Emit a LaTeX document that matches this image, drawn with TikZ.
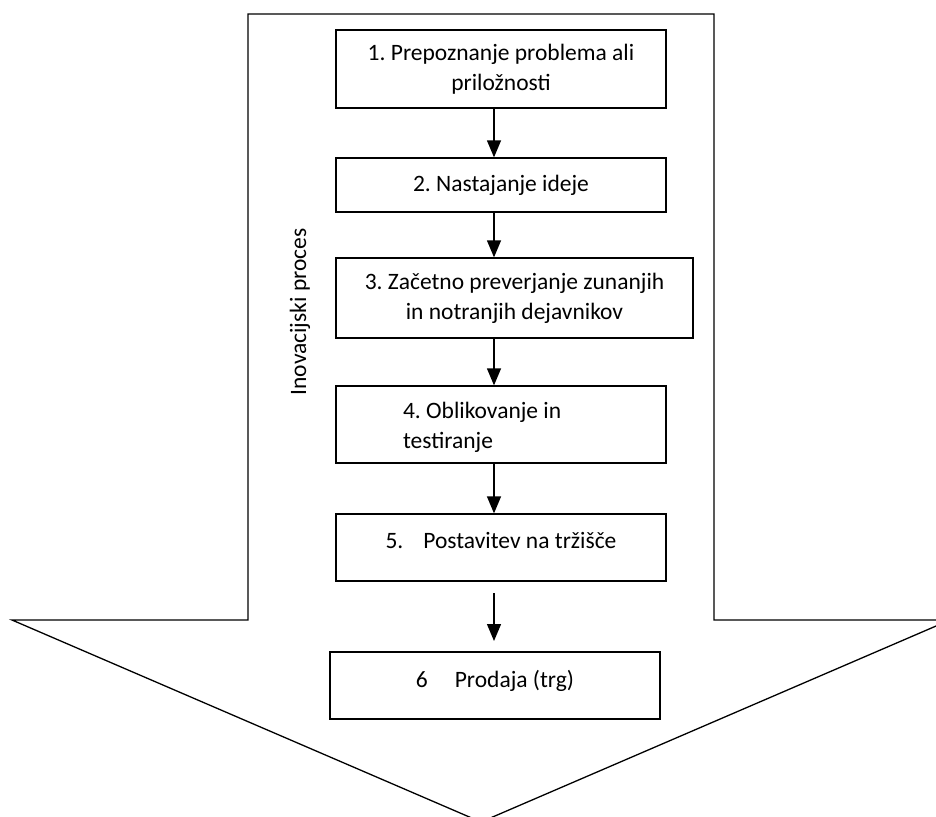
\documentclass[tikz,border=0pt]{standalone}
\usepackage{fontspec}
\setmainfont{Carlito}
\usetikzlibrary{arrows.meta}
\begin{document}
\frenchspacing
\begin{tikzpicture}[x=1pt,y=-1pt,
  every node/.style={font=\fontsize{23.5}{30}\selectfont\frenchspacing},
  stepbox/.style={draw=black,line width=1.3pt,rectangle,inner sep=0pt,align=flush center,minimum width=330pt},
  outline/.style={draw=black,line width=1.3pt,line join=miter},
  arr/.style={line width=1.3pt,-{Triangle[length=17pt,width=14pt]}}]
\useasboundingbox (0,0) rectangle (936,816);
\clip (0,0) rectangle (936,816);
% big arrow outline
\draw[outline] (248,14) -- (714,14) -- (714,620) -- (950,620) -- (481,822) -- (12,620) -- (248,620) -- cycle;
\node[rotate=90] (lbl) at (300,312) {Inovacijski proces};
% boxes
\node[stepbox,minimum height=78pt] (b1) at (501,69) {1. Prepoznanje problema ali\\priložnosti};
\node[stepbox,minimum height=54pt] (b2) at (501,185) {2. Nastajanje ideje};
\node[stepbox,minimum height=80pt,minimum width=357pt] (b3) at (514.5,298) {3. Začetno preverjanje zunanjih\\in notranjih dejavnikov};
\node[stepbox,minimum height=77pt,inner xsep=67pt,text width=196pt,align=flush left] (b4) at (501,424.5) {\raisebox{-3pt}[\height][\depth]{4. Oblikovanje in}\\\raisebox{-3pt}[\height][\depth]{testiranje}};
\node[stepbox,minimum height=67pt] (b5) at (501,547.5) {\raisebox{7pt}[\height][\depth]{5.\hspace{20pt}Postavitev na tržišče}};
\node[stepbox,minimum height=67pt] (b6) at (495,685.5) {\raisebox{5pt}[\height][\depth]{6\hspace{27pt}Prodaja (trg)}};
% arrows
\coordinate (ax) at (494,0);
\coordinate (s5) at (494,593);
\coordinate (e5) at (494,641);
\draw[arr] (b1.south -| ax) -- (b2.north -| ax);
\draw[arr] (b2.south -| ax) -- (b3.north -| ax);
\draw[arr] (b3.south -| ax) -- (b4.north -| ax);
\draw[arr] (b4.south -| ax) -- (b5.north -| ax);
\draw[arr] (s5) -- (e5);
\end{tikzpicture}
\end{document}
